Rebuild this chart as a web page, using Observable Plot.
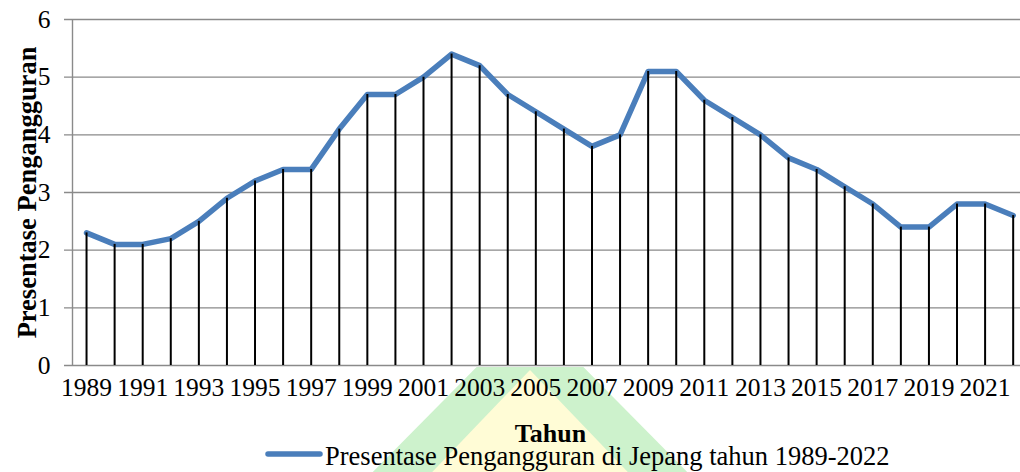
<!DOCTYPE html>
<html><head><meta charset="utf-8">
<script src="https://cdn.jsdelivr.net/npm/d3@7"></script>
<script src="https://cdn.jsdelivr.net/npm/@observablehq/plot@0.6"></script>
<style>
body{margin:0;background:#fff;font-family:"Liberation Serif","Times New Roman",serif;position:relative;width:1020px;height:472px;overflow:hidden}
#wm{position:absolute;left:0;top:0;z-index:0}
#chart{position:relative;z-index:1}
#chart svg{display:block;overflow:visible}
#legend{display:block;position:relative;z-index:1}
</style></head><body>
<svg id="wm" width="1020" height="472" aria-hidden="true">
  <defs><clipPath id="below"><rect x="0" y="367" width="1020" height="105"/></clipPath></defs>
  <g clip-path="url(#below)">
    <polygon points="530,313 705,490 355,490" fill="#cdf2cc"/>
    <polygon points="530,370 645,490 415,490" fill="#fffcd6"/>
  </g>
</svg>
<div id="chart"></div>
<script>
const years = [1989,1990,1991,1992,1993,1994,1995,1996,1997,1998,1999,2000,2001,2002,2003,2004,2005,2006,2007,2008,2009,2010,2011,2012,2013,2014,2015,2016,2017,2018,2019,2020,2021,2022];
const values = [2.3,2.1,2.1,2.2,2.5,2.9,3.2,3.4,3.4,4.1,4.7,4.7,5.0,5.4,5.2,4.7,4.4,4.1,3.8,4.0,5.1,5.1,4.6,4.3,4.0,3.6,3.4,3.1,2.8,2.4,2.4,2.8,2.8,2.6];
const tickYears = [1989,1991,1993,1995,1997,1999,2001,2003,2005,2007,2009,2011,2013,2015,2017,2019,2021];
const yTicks = [0,1,2,3,4,5,6];
const xTitle = "Tahun";
const yTitle = "Presentase Pengangguran";
const seriesName = "Presentase Pengangguran di Jepang tahun 1989-2022";
const lineColor = "#4a7ebb";
const gridColor = "#8a8a8a";

const data = years.map((y,i)=>({year:y, value:values[i]}));
const x0 = years[0]-0.5, x1 = years[years.length-1]+0.5;

const chart = Plot.plot({
  width:1020, height:440,
  marginLeft:64, marginRight:0, marginTop:19, marginBottom:75,
  style:{fontFamily:"'Liberation Serif','Times New Roman',serif", fontSize:"25.5px", color:"#000", background:"transparent", overflow:"visible"},
  x:{type:"linear", domain:[x0, x1], range:[72, 72 + years.length*28.08]},
  y:{domain:[0,6]},
  marks:[
    Plot.ruleY(yTicks, {stroke:gridColor, strokeWidth:1.4}),
    Plot.ruleX([x0], {y1:0, y2:6, stroke:gridColor, strokeWidth:1.4}),
    Plot.line(data, {x:"year", y:"value", stroke:lineColor, strokeWidth:5.5, strokeLinejoin:"round", strokeLinecap:"round"}),
    Plot.ruleX(data, {x:"year", y1:0, y2:"value", stroke:"#000", strokeWidth:2}),
    Plot.axisX({ticks:tickYears, tickFormat:d=>String(d), tickSize:0, tickPadding:12, label:null, fill:"#000"}),
    Plot.axisY({ticks:yTicks, tickFormat:d=>String(d), tickSize:0, tickPadding:14, label:null, fill:"#000"}),
    Plot.text([xTitle], {frameAnchor:"bottom", textAnchor:"middle", lineAnchor:"middle", dx:8, dy:67.7, fontWeight:"bold", fontSize:26, fill:"#000"}),
    Plot.text([yTitle], {frameAnchor:"left", textAnchor:"middle", lineAnchor:"middle", rotate:-90, dx:-37, fontWeight:"bold", fontSize:26.5, fill:"#000"})
  ]
});
document.getElementById("chart").append(chart);

// legend below the plot
const ns = "http://www.w3.org/2000/svg";
const leg = document.createElementNS(ns, "svg");
leg.setAttribute("id","legend");
leg.setAttribute("width","1020"); leg.setAttribute("height","32");
const ln = document.createElementNS(ns, "line");
ln.setAttribute("x1","268"); ln.setAttribute("x2","320"); ln.setAttribute("y1","14"); ln.setAttribute("y2","14");
ln.setAttribute("stroke", lineColor); ln.setAttribute("stroke-width","5.5"); ln.setAttribute("stroke-linecap","round");
const tx = document.createElementNS(ns, "text");
tx.setAttribute("x","325"); tx.setAttribute("y","25");
tx.setAttribute("font-family","'Liberation Serif','Times New Roman',serif");
tx.setAttribute("font-size","26.5"); tx.setAttribute("fill","#000");
tx.textContent = seriesName;
leg.append(ln, tx);
document.body.append(leg);
</script>
</body></html>
